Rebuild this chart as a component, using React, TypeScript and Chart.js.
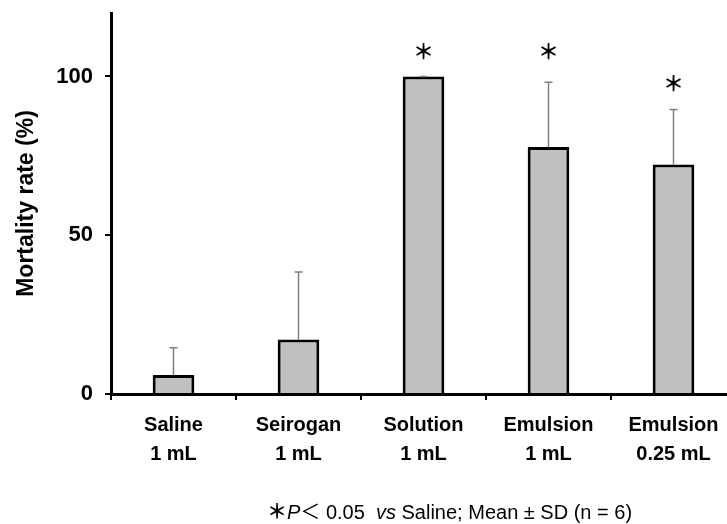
import React, { useEffect, useRef } from "react";
import { Chart, registerables } from "chart.js";

Chart.register(...registerables);

// ---- data ----
const categories: string[][] = [
  ["Saline", "1 mL"],
  ["Seirogan", "1 mL"],
  ["Solution", "1 mL"],
  ["Emulsion", "1 mL"],
  ["Emulsion", "0.25 mL"],
];
const meanValues = [6, 17.2, 100, 77.8, 72.3];
const sdValues = [8.6, 21.2, 0, 20.4, 17.3];
const significance = ["", "", "＊", "＊", "＊"];
const markLevel: (number | null)[] = [null, null, 108, 108, 98];
const yTickValues = [0, 50, 100];
const yMax = 120;

const FONT = "'Liberation Sans', Arial, sans-serif";

const errorBarPlugin = {
  id: "errorBars",
  afterDatasetsDraw(chart: any) {
    const meta = chart.getDatasetMeta(0);
    const y = chart.scales.y;
    const ctx = chart.ctx;
    ctx.save();
    ctx.strokeStyle = "#808080";
    ctx.lineWidth = 1.5;
    meta.data.forEach((bar: any, i: number) => {
      const top = y.getPixelForValue(meanValues[i] + sdValues[i]);
      const base = y.getPixelForValue(meanValues[i]);
      ctx.beginPath();
      ctx.moveTo(bar.x, base);
      ctx.lineTo(bar.x, top);
      ctx.moveTo(bar.x - 4, top);
      ctx.lineTo(bar.x + 4, top);
      ctx.stroke();
    });
    ctx.fillStyle = "#000";
    ctx.font = "bold 21px 'Noto Sans CJK JP', sans-serif";
    ctx.textAlign = "center";
    ctx.textBaseline = "middle";
    meta.data.forEach((bar: any, i: number) => {
      const lvl = markLevel[i];
      if (lvl == null || !significance[i]) return;
      ctx.fillText(significance[i], bar.x, y.getPixelForValue(lvl));
    });
    ctx.restore();
  },
};

export default function App() {
  const ref = useRef<HTMLCanvasElement | null>(null);
  useEffect(() => {
    if (!ref.current) return;
    const chart = new Chart(ref.current, {
      type: "bar",
      data: {
        labels: categories as any,
        datasets: [
          {
            data: meanValues,
            backgroundColor: "#c0c0c0",
            borderColor: "#000",
            borderWidth: 3,
            categoryPercentage: 1,
            barPercentage: 0.333,
          },
        ],
      },
      options: {
        animation: false,
        responsive: false,
        layout: { padding: { top: 13, right: 9, left: 0, bottom: 0 } },
        plugins: { legend: { display: false }, tooltip: { enabled: false } },
        scales: {
          x: {
            grid: {
              display: true,
              drawOnChartArea: false,
              drawTicks: true,
              tickLength: 6,
              color: "#000",
              lineWidth: 2,
              offset: true,
            },
            border: { display: true, color: "#000", width: 3 },
            ticks: {
              color: "#000",
              font: { family: FONT, size: 20, weight: "bold", lineHeight: 1.45 },
              padding: 11,
              maxRotation: 0,
              autoSkip: false,
            },
            afterFit(scale: any) {
              scale.height = 130;
            },
          },
          y: {
            min: 0,
            max: yMax,
            afterBuildTicks(scale: any) {
              scale.ticks = yTickValues.map((v) => ({ value: v }));
            },
            grid: {
              display: true,
              drawOnChartArea: false,
              drawTicks: true,
              tickLength: 6,
              color: "#000",
              lineWidth: 2,
            },
            border: { display: true, color: "#000", width: 3 },
            ticks: {
              color: "#000",
              font: { family: FONT, size: 22, weight: "bold" },
              padding: 12,
            },
            title: {
              display: true,
              text: "Mortality rate (%)",
              color: "#000",
              font: { family: FONT, size: 23, weight: "bold" },
              padding: { top: 13, bottom: 0 },
            },
            afterFit(scale: any) {
              scale.width = 111;
              scale.paddingTop = 0;
              scale.paddingBottom = 0;
            },
          },
        },
      },
      plugins: [errorBarPlugin],
    });
    return () => chart.destroy();
  }, []);

  return (
    <div
      style={{
        position: "fixed",
        left: 0,
        top: 0,
        width: 727,
        height: 524,
        overflow: "hidden",
        background: "#fff",
      }}
    >
      <canvas ref={ref} width={745} height={524} style={{ width: 745, height: 524, display: "block" }} />
      <div
        style={{
          position: "absolute",
          left: 267,
          top: 499,
          font: "20px 'Liberation Sans', Arial, sans-serif",
          whiteSpace: "pre",
          color: "#000",
          lineHeight: "24px",
        }}
      >
        <span style={{ fontFamily: "'Noto Sans CJK JP', sans-serif", fontWeight: "bold" }}>＊</span>
        <i>P</i>
        <span style={{ fontFamily: "'Noto Sans CJK JP', sans-serif" }}>＜</span>
        {" 0.05  "}
        <i>vs</i>
        {" Saline; Mean ± SD (n = 6)"}
      </div>
    </div>
  );
}
